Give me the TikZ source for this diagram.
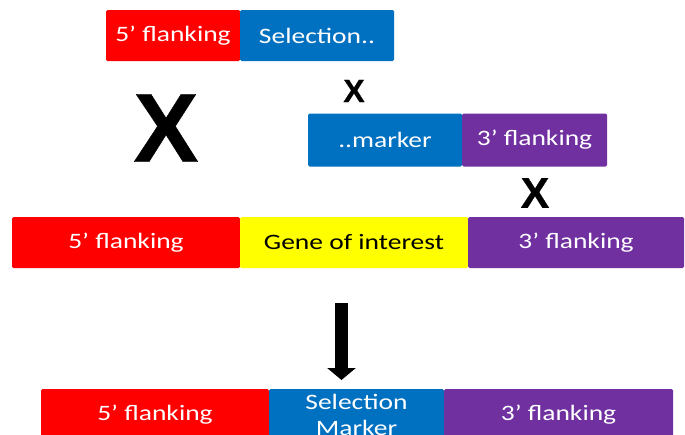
\documentclass[tikz,border=0pt]{standalone}
\usepackage{fontspec}
\setmainfont{Carlito}[FakeStretch=1.25]
\newfontfamily\crossfont{Liberation Sans}[FakeBold=0.4]
\usetikzlibrary{arrows.meta}
\definecolor{flankred}{HTML}{FF0000}
\definecolor{markblue}{HTML}{0070C0}
\definecolor{flankpurple}{HTML}{7030A0}
\definecolor{geneyellow}{HTML}{FFFF00}
\tikzset{
  seg/.style={rectangle, rounded corners=1.5pt, inner sep=0pt, text=white,
    font=\fontsize{22}{26}\selectfont, align=center},
  redseg/.style={seg, fill=flankred},
  blueseg/.style={seg, fill=markblue},
  purpleseg/.style={seg, fill=flankpurple},
  yellowseg/.style={seg, fill=geneyellow, text=black},
  cross/.style={inner sep=0pt, font=\crossfont\bfseries\fontsize{#1}{#1}\selectfont},
}
\begin{document}
\begin{tikzpicture}[x=1pt, y={(0pt,-1pt)}]
\useasboundingbox (0,0) rectangle (685,434);
\clip (0,0) rectangle (685,434);

% targeting construct, first half
\node[redseg,  minimum width=134pt, minimum height=51pt] (topfive) at (173,35.5) {5’ flanking};
\node[blueseg, minimum width=154pt, minimum height=51pt] (topsel)  at (317,35.5) {Selection..};

% targeting construct, second half
\node[blueseg,   minimum width=154pt, minimum height=53pt] (midmark)  at (385,140) {..marker};
\node[purpleseg, minimum width=145pt, minimum height=53pt] (midthree) at (534.5,140) {3’ flanking};

% crossover marks
\node[cross=98] (bigx)   at (166,128) {X};
\node[cross=32] (smallx) at (354,91) {X};
\node[cross=43] (rightx) at (535,193) {X};

% genomic locus
\node[redseg,    minimum width=228pt, minimum height=51pt] (locfive)  at (126,242.5) {5’ flanking};
\node[yellowseg, minimum width=228pt, minimum height=51pt] (locgene)  at (354,242.5) {Gene of interest};
\node[purpleseg, minimum width=216pt, minimum height=51pt] (locthree) at (576,242.5) {3’ flanking};

% result arrow
\coordinate (arrtop) at (341.5,303);
\coordinate (arrtip) at (341.5,380);
\draw[line width=13pt, -{Triangle[width=28pt,length=12pt]}] (arrtop) -- (arrtip);

% recombined locus
\node[redseg,    minimum width=228pt, minimum height=51pt] (resfive)  at (155,414.5) {5’ flanking};
\node[blueseg,   minimum width=175pt, minimum height=51pt] (ressel)   at (356.5,414.5) {Selection\\Marker};
\node[purpleseg, minimum width=229pt, minimum height=51pt] (resthree) at (558.5,414.5) {3’ flanking};
\end{tikzpicture}
\end{document}
